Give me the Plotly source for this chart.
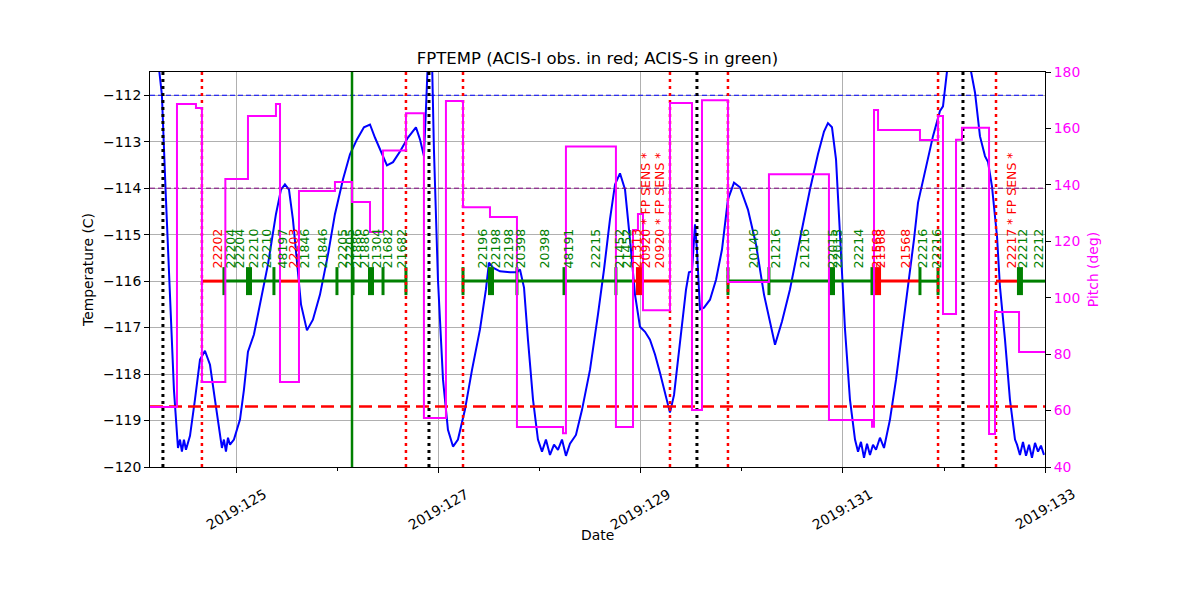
import plotly.graph_objects as go

# ---- data (day of year 2019) ----
temp_days = [124.218, 124.257, 124.297, 124.337, 124.376, 124.416, 124.436, 124.455, 124.475, 124.495,
             124.515, 124.535, 124.584, 124.634, 124.683, 124.733, 124.782, 124.832, 124.851, 124.871,
             124.891, 124.911, 124.931, 124.970, 125.030, 125.069, 125.109, 125.168, 125.228, 125.307,
             125.386, 125.436, 125.475, 125.515, 125.554, 125.594, 125.634, 125.693, 125.752, 125.822,
             125.901, 125.970, 126.050, 126.119, 126.188, 126.257, 126.317, 126.366, 126.426, 126.485,
             126.545, 126.614, 126.693, 126.772, 126.812, 126.851, 126.871, 126.891, 126.931, 126.950,
             126.990, 127.040, 127.089, 127.139, 127.188, 127.257, 127.327, 127.406, 127.465, 127.495,
             127.535, 127.604, 127.703, 127.772, 127.802, 127.842, 127.881, 127.931, 127.980, 128.020,
             128.059, 128.099, 128.139, 128.178, 128.218, 128.257, 128.297, 128.356, 128.416, 128.495,
             128.574, 128.634, 128.693, 128.743, 128.792, 128.842, 128.891, 128.941, 128.990, 129.040,
             129.089, 129.139, 129.188, 129.238, 129.287, 129.327, 129.366, 129.406, 129.446, 129.475,
             129.505, 129.535, 129.554, 129.584, 129.624, 129.683, 129.743, 129.802, 129.861, 129.921,
             129.980, 130.059, 130.139, 130.218, 130.277, 130.327, 130.396, 130.475, 130.574, 130.673,
             130.752, 130.812, 130.851, 130.891, 130.931, 130.970, 131.020, 131.069, 131.119, 131.149,
             131.178, 131.208, 131.238, 131.267, 131.297, 131.327, 131.366, 131.406, 131.465, 131.525,
             131.584, 131.644, 131.703, 131.743, 131.891, 131.960, 131.990, 132.030, 132.059, 132.218,
             132.267, 132.307, 132.356, 132.406, 132.436, 132.475, 132.525, 132.554, 132.604, 132.653,
             132.703, 132.723, 132.752, 132.782, 132.812, 132.842, 132.871, 132.901, 132.931, 132.960,
             132.990]
temp_vals = [-111.22, -112.00, -114.24, -116.40, -118.34, -119.59, -119.41, -119.67, -119.41, -119.63,
             -119.46, -119.33, -118.55, -117.69, -117.50, -117.80, -118.55, -119.31, -119.59, -119.41,
             -119.67, -119.37, -119.52, -119.41, -118.98, -118.34, -117.52, -117.15, -116.50, -115.64,
             -114.56, -114.03, -113.92, -114.03, -114.67, -115.64, -116.50, -117.06, -116.83, -116.29,
             -115.43, -114.56, -113.81, -113.27, -112.95, -112.69, -112.63, -112.91, -113.23, -113.51,
             -113.44, -113.21, -112.91, -112.69, -112.95, -113.31, -112.30, -111.22, -111.22, -113.16,
             -115.97, -118.12, -119.20, -119.56, -119.41, -118.77, -117.91, -117.04, -116.18, -115.60,
             -115.71, -115.79, -115.81, -115.81, -115.75, -116.14, -117.26, -118.55, -119.41, -119.67,
             -119.41, -119.74, -119.52, -119.63, -119.41, -119.76, -119.50, -119.31, -118.77, -117.91,
             -116.72, -115.75, -114.67, -113.92, -113.68, -114.03, -115.10, -116.29, -116.98, -117.09,
             -117.26, -117.58, -117.97, -118.40, -118.83, -118.45, -117.69, -116.89, -116.18, -115.81,
             -115.79, -114.78, -115.32, -116.61, -116.57, -116.40, -115.97, -115.32, -114.24, -113.88,
             -113.98, -114.46, -115.21, -116.29, -116.89, -117.37, -116.87, -116.18, -115.10, -114.03,
             -113.27, -112.78, -112.60, -112.69, -113.38, -114.89, -117.04, -118.55, -119.41, -119.67,
             -119.46, -119.80, -119.50, -119.74, -119.52, -119.63, -119.37, -119.59, -118.98, -118.12,
             -117.15, -116.18, -115.10, -114.31, -112.88, -112.34, -112.24, -111.48, -111.12, -111.12,
             -111.48, -111.94, -112.88, -113.31, -113.44, -113.96, -115.04, -116.12, -117.26, -118.55,
             -119.41, -119.52, -119.74, -119.46, -119.76, -119.52, -119.80, -119.48, -119.67, -119.54,
             -119.74]

pitch_days = [124.139, 124.406, 124.594, 124.653, 124.885, 125.109, 125.386, 125.426, 125.614, 125.970,
              126.139, 126.317, 126.446, 126.673, 126.851, 127.069, 127.238, 127.505, 127.772, 128.228,
              128.257, 128.752, 128.921, 128.970, 129.020, 129.287, 129.505, 129.604, 129.861, 130.267,
              130.861, 131.287, 131.307, 131.347, 131.762, 131.941, 131.990, 132.119, 132.178, 132.446,
              132.505, 132.743, 133.0]
pitch_vals = [61.3, 168.7, 167.2, 70.1, 142.1, 164.4, 168.7, 70.1, 137.8, 141.0,
              133.9, 123.3, 152.2, 165.4, 57.4, 169.7, 132.1, 128.6, 54.2, 52.0,
              153.6, 54.2, 124.0, 129.7, 95.6, 169.0, 60.2, 170.0, 105.6, 143.8,
              56.7, 54.3, 166.5, 159.4, 155.9, 164.4, 94.2, 156.0, 160.2, 51.7,
              94.9, 80.8, 80.8]

black_line_days = [124.267, 126.901, 129.554, 132.188]
red_line_days = [124.653, 126.673, 127.238, 129.287, 129.861, 131.941, 132.515]
green_line_days = [126.139]

planning_limit = -112.0
yellow_limit = -114.0
acis_i_limit = -118.7
obs_level = -116.0

acis_i_starts = [124.653, 125.426, 128.921, 131.287, 132.515]
acis_i_stops = [124.871, 125.604, 129.287, 131.762, 132.743]
acis_s_starts = [124.871, 125.604, 127.238, 129.861, 131.762, 132.743]
acis_s_stops = [125.426, 126.673, 128.921, 131.287, 131.941, 133.0]

obs_tick_days = [124.871, 125.119, 125.366, 125.990, 126.149, 126.327, 126.446, 126.673, 127.238, 127.515,
                 127.772, 128.238, 128.752, 128.980, 129.861, 130.267, 130.891, 131.287, 131.347, 131.762,
                 131.941, 132.752]
obs_tick_inst = ["S", "S", "S", "S", "S", "S", "S", "S", "S", "S",
                 "S", "S", "S", "I", "S", "S", "S", "S", "I", "S",
                 "S", "S"]
obs_tick_double = [0, 1, 0, 0, 0, 1, 0, 0, 0, 1,
                   0, 0, 0, 1, 0, 0, 1, 0, 1, 0,
                   0, 1]

label_days = [124.812, 124.931, 125.030, 125.168, 125.297, 125.446, 125.564, 125.673, 125.851, 126.040,
              126.119, 126.188, 126.267, 126.386, 126.495, 126.624,
              127.426, 127.564, 127.693, 127.812, 128.040, 128.287, 128.545, 128.792, 128.861, 128.960,
              129.040, 129.188,
              130.109, 130.327, 130.614, 130.901, 130.941, 131.149, 131.327, 131.376, 131.614, 131.792,
              131.921, 132.673, 132.782, 132.931]
label_text = ["22202", "22204", "22204", "22210", "22210", "48197", "22203", "21846", "21846", "22205",
              "22205", "21886", "21886", "21304", "21682", "21682",
              "22196", "22198", "22198", "20398", "20398", "48191", "22215", "21452", "21452", "21313",
              "20920 * FP SENS *", "20920 * FP SENS *",
              "20146", "21216", "21216", "22015", "22015", "22214", "21568", "21568", "21568", "22216",
              "22216", "22217 * FP SENS *", "22212", "22212"]
label_inst = ["I", "S", "S", "S", "S", "S", "I", "S", "S", "S",
              "S", "S", "S", "S", "S", "S",
              "S", "S", "S", "S", "S", "S", "S", "S", "S", "I",
              "I", "I",
              "S", "S", "S", "S", "S", "S", "I", "I", "I", "S",
              "S", "I", "S", "S"]

x_min, x_max = 124.139, 133.0
tick_days = [125, 127, 129, 131, 133]
tick_labels = ["2019:125", "2019:127", "2019:129", "2019:131", "2019:133"]
minor_days = [126, 128, 130, 132]

inst_color = {"I": "#ff0000", "S": "#008000"}
FONT = "DejaVu Sans"
FS = 13.9

fig = go.Figure()

# temperature
fig.add_trace(go.Scatter(x=temp_days, y=temp_vals, mode="lines",
                         line=dict(color="#0000ff", width=2), name="FPTEMP"))

# limit lines
for lev, col, dash, w in [(planning_limit, "#0000ff", "5px,3px", 1),
                          (yellow_limit, "#800080", "5px,3px", 1),
                          (acis_i_limit, "#ff0000", "13px,6px", 2.5)]:
    fig.add_trace(go.Scatter(x=[x_min, x_max], y=[lev, lev], mode="lines",
                             line=dict(color=col, width=w, dash=dash), hoverinfo="skip"))

# observation segments
def seg_xy(starts, stops):
    xs, ys = [], []
    for a, b in zip(starts, stops):
        xs += [a, b, None]
        ys += [obs_level, obs_level, None]
    return xs, ys

for starts, stops, inst in [(acis_s_starts, acis_s_stops, "S"), (acis_i_starts, acis_i_stops, "I")]:
    xs, ys = seg_xy(starts, stops)
    fig.add_trace(go.Scatter(x=xs, y=ys, mode="lines",
                             line=dict(color=inst_color[inst], width=3), hoverinfo="skip"))

fig.add_trace(go.Scatter(
    x=obs_tick_days, y=[obs_level] * len(obs_tick_days), mode="markers",
    marker=dict(symbol="line-ns", size=20,
                line=dict(color=[inst_color[i] for i in obs_tick_inst],
                          width=[6 if d else 3 for d in obs_tick_double])),
    hoverinfo="skip"))

# vertical event lines
def vlines(days):
    xs, ys = [], []
    for d in days:
        xs += [d, d, None]
        ys += [-120, -111.5, None]
    return xs, ys

for days, col, dash, w in [(black_line_days, "#000000", "3px,4px", 3),
                           (red_line_days, "#ff0000", "3px,4px", 2.5),
                           (green_line_days, "#008000", "solid", 2.5)]:
    xs, ys = vlines(days)
    fig.add_trace(go.Scatter(x=xs, y=ys, mode="lines",
                             line=dict(color=col, width=w, dash=dash), hoverinfo="skip"))

# pitch on right axis
fig.add_trace(go.Scatter(x=pitch_days, y=pitch_vals, mode="lines", yaxis="y2",
                         line=dict(color="#ff00ff", width=2, shape="hv"), name="Pitch"))

# obsid labels
for d, t, inst in zip(label_days, label_text, label_inst):
    fig.add_annotation(x=d, y=-115.75, text=t, textangle=-90, showarrow=False,
                       xanchor="center", yanchor="bottom", borderpad=0,
                       font=dict(family=FONT, size=12.5, color=inst_color[inst]))

# date tick labels centred under their ticks (rotated 30 deg)
for d, t in zip(tick_days, tick_labels):
    fig.add_annotation(x=d, xref="x", y=0, yref="paper", yshift=-17, text=t, textangle=-30,
                       showarrow=False, xanchor="center", yanchor="top", borderpad=0,
                       font=dict(family=FONT, size=FS, color="black"))

fig.add_annotation(x=0.5, xref="paper", y=0, yref="paper", yshift=-68, text="Date",
                   showarrow=False, xanchor="center", yanchor="middle",
                   font=dict(family=FONT, size=FS, color="black"))

# page body has an 8px margin, so the margins are shifted to land the plot box in place
fig.update_layout(
    width=1200, height=600,
    margin=dict(l=142, r=163, t=64, b=141, autoexpand=False),
    paper_bgcolor="white", plot_bgcolor="white",
    showlegend=False,
    font=dict(family=FONT, size=FS, color="black"),
    title=dict(text="FPTEMP (ACIS-I obs. in red; ACIS-S in green)", x=0.5, xref="paper",
               y=1 - 50 / 600, yanchor="middle", font=dict(family=FONT, size=16.5),
               automargin=False),
    xaxis=dict(range=[x_min, x_max], tickmode="array", tickvals=tick_days, showticklabels=False,
               ticks="outside", ticklen=5, tickcolor="black",
               showgrid=True, gridcolor="#b0b0b0", gridwidth=1, zeroline=False,
               showline=True, linecolor="black", linewidth=1, mirror=True, automargin=False,
               minor=dict(tickmode="array", tickvals=minor_days, ticks="outside", ticklen=3,
                          tickcolor="black", showgrid=False)),
    yaxis=dict(range=[-120, -111.5], tickmode="array", tickvals=list(range(-120, -111)),
               ticks="outside", ticklen=5, tickcolor="black", tickfont=dict(size=FS),
               showgrid=True, gridcolor="#b0b0b0", gridwidth=1, zeroline=False,
               showline=True, linecolor="black", linewidth=1, mirror=True, automargin=False,
               title=dict(text="Temperature (C)", standoff=6, font=dict(family=FONT, size=FS))),
    yaxis2=dict(range=[40, 180], tickmode="array", tickvals=list(range(40, 181, 20)),
                overlaying="y", side="right", ticks="outside", ticklen=5, tickcolor="black",
                showgrid=False, zeroline=False, showline=True, linecolor="black", automargin=False,
                tickfont=dict(color="#ff00ff", size=FS),
                title=dict(text="Pitch (deg)", font=dict(family=FONT, size=FS, color="#ff00ff"),
                           standoff=8)),
)

fig.write_html("out.html")
